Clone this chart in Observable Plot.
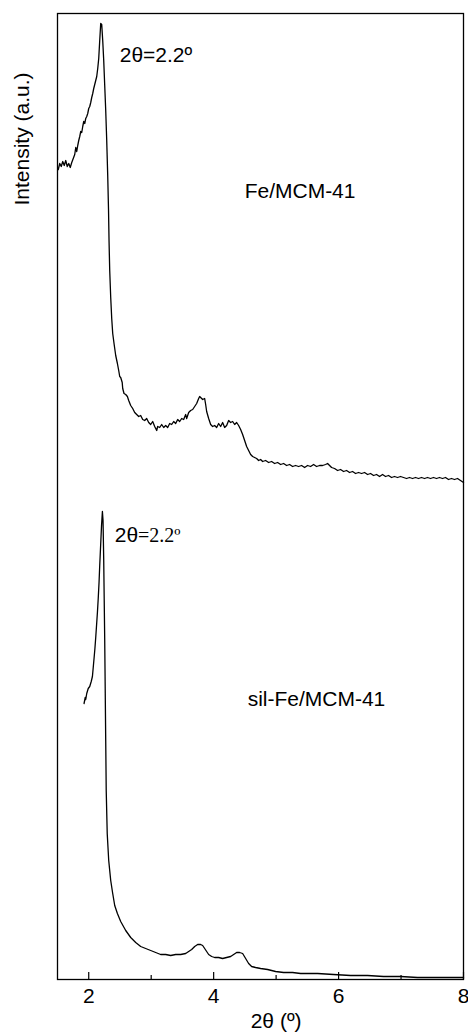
<!DOCTYPE html>
<html><head><meta charset="utf-8">
<script src="https://cdn.jsdelivr.net/npm/d3@7"></script>
<script src="https://cdn.jsdelivr.net/npm/@observablehq/plot@0.6"></script>
<style>body{margin:0;background:#fff}</style>
</head><body><div id="chart"></div>
<script>
// Fe/MCM-41 pattern (2θ in degrees, intensity in a.u.)
const feX = [1.512,1.536,1.56,1.584,1.608,1.632,1.656,1.68,1.704,1.728,1.752,1.776,1.792,1.808,1.824,1.84,1.856,1.872,1.888,1.904,1.92,1.936,1.952,1.968,1.984,2.0,2.016,2.032,2.048,2.064,2.08,2.096,2.112,2.128,2.144,2.16,2.176,2.192,2.208,2.224,2.24,2.256,2.272,2.288,2.304,2.317,2.325,2.336,2.352,2.368,2.384,2.405,2.432,2.459,2.48,2.496,2.512,2.536,2.544,2.565,2.592,2.619,2.64,2.672,2.704,2.736,2.768,2.8,2.832,2.864,2.896,2.928,2.96,2.992,3.024,3.056,3.088,3.104,3.136,3.168,3.2,3.232,3.264,3.296,3.328,3.36,3.392,3.424,3.456,3.488,3.52,3.552,3.568,3.6,3.632,3.664,3.696,3.728,3.76,3.776,3.792,3.824,3.856,3.872,3.888,3.92,3.952,3.984,4.016,4.048,4.08,4.112,4.144,4.176,4.208,4.24,4.272,4.304,4.336,4.368,4.4,4.432,4.464,4.496,4.528,4.56,4.592,4.624,4.656,4.688,4.72,4.752,4.784,4.832,4.88,4.928,4.976,5.024,5.072,5.12,5.168,5.216,5.264,5.312,5.36,5.408,5.456,5.504,5.552,5.6,5.648,5.696,5.744,5.792,5.824,5.856,5.888,5.936,5.984,6.032,6.08,6.128,6.176,6.224,6.272,6.32,6.368,6.416,6.464,6.512,6.56,6.608,6.656,6.704,6.752,6.8,6.848,6.896,6.944,6.992,7.04,7.088,7.136,7.184,7.232,7.28,7.328,7.376,7.424,7.472,7.52,7.568,7.616,7.664,7.712,7.76,7.808,7.856,7.904,7.952,8.0];
const feY = [810,816,813,818,814,819,813,816,812,817,821,825,832,828,834,839,843,848,847,853,858,856,861,863,866,871,873,877,882,886,891,895,899,903,911,921,939,956,955,939,919,894,869,839,804,769,739,709,682,661,646,636,624,616,609,603,602,597,591,586,585,583,579,574,571,567,565,563,564,560,559,561,557,555,558,553,549,553,552,555,552,554,552,556,555,558,556,560,558,561,560,565,561,567,569,570,573,576,581,583,582,580,581,575,568,561,555,553,554,552,556,553,557,552,554,559,557,558,555,557,554,550,545,539,533,529,525,523,522,521,519,520,518,519,517,518,516,517,515,516,514,515,513,514,513,514,512,514,513,515,513,514,514,515,516,514,512,511,509,510,508,509,507,508,506,507,506,507,505,506,504,505,503,505,503,504,502,503,502,503,502,501,502,501,502,501,502,501,502,501,502,501,502,501,502,500,501,500,501,499,497];

// sil-Fe/MCM-41 pattern
const silX = [1.925,1.944,1.952,1.968,1.992,2.016,2.04,2.059,2.072,2.085,2.099,2.112,2.125,2.139,2.152,2.165,2.176,2.192,2.205,2.219,2.229,2.24,2.248,2.256,2.264,2.272,2.28,2.296,2.32,2.352,2.384,2.416,2.459,2.512,2.592,2.672,2.752,2.832,2.912,2.992,3.072,3.152,3.232,3.312,3.392,3.472,3.552,3.6,3.648,3.696,3.744,3.792,3.824,3.856,3.888,3.92,3.968,4.016,4.08,4.144,4.208,4.272,4.32,4.368,4.416,4.464,4.512,4.56,4.608,4.672,4.752,4.864,4.992,5.12,5.264,5.392,5.664,5.92,6.192,6.464,6.72,6.992,7.264,7.52,7.792,8.0];
const silY = [276,282,280,286,291,293,298,303,312,321,331,342,354,367,381,397,414,436,454,468,459,419,379,339,289,239,189,146,119,99,86,74,66,58,49,42,37,33,31,29,27,25,25,24,25,25,26,28,30,33,35,35,34,31,28,25,23,22,22,21,22,23,25,27,27,26,21,16,13,12,11,10,8,7,7,6,6,5,4,4,3,3,2,2,2,2];

// axis ticks and labels
const majorTicks = [2, 4, 6, 8];
const minorTicks = [3, 5, 7];
const xLabel = "2θ (º)";
const yLabel = "Intensity (a.u.)";

// annotations (data coordinates)
const annText = ["2θ=2.2º", "Fe/MCM-41", "sil-Fe/MCM-41"];
const annX = [2.496, 4.496, 4.544];
const annY = [924, 788, 280];
const peakText = ["2θ=2.2º"];
const peakX = [2.416];
const peakY = [444];

const fe = feX.map((x, i) => ({x, y: feY[i]}));
const sil = silX.map((x, i) => ({x, y: silY[i]}));
const ann = annText.map((t, i) => ({t, x: annX[i], y: annY[i]}));
const peak = peakText.map((t, i) => ({t, x: peakX[i], y: peakY[i]}));

const font = "'Liberation Sans', Arial, sans-serif";
const chart = Plot.plot({
  width: 468, height: 1033,
  marginTop: 13, marginBottom: 54, marginLeft: 57, marginRight: 5,
  style: {fontFamily: font, fontSize: "21px", background: "white", color: "black"},
  x: {domain: [1.5, 8]},
  y: {domain: [0, 966], axis: null},
  marks: [
    Plot.axisX(majorTicks, {tickSize: -7, tickPadding: 16, fontSize: 21, label: null, strokeWidth: 1.2}),
    Plot.axisX(minorTicks, {tickSize: -4, tickFormat: () => "", label: null, strokeWidth: 1.2}),
    Plot.frame({stroke: "black", strokeWidth: 1.3}),
    Plot.line(fe, {x: "x", y: "y", stroke: "black", strokeWidth: 1.3}),
    Plot.line(sil, {x: "x", y: "y", stroke: "black", strokeWidth: 1.3}),
    Plot.text(ann, {x: "x", y: "y", text: "t", textAnchor: "start", lineAnchor: "middle", fontSize: 21, fill: "black"}),
    Plot.text(peak, {x: "x", y: "y", text: "t", textAnchor: "start", lineAnchor: "middle", fontSize: 21, fill: "black", className: "mixedlabel"}),
    Plot.text([xLabel], {x: 5, frameAnchor: "bottom", dy: 42, text: d => d, lineAnchor: "middle", fontSize: 21, fill: "black"}),
    Plot.text([yLabel], {y: 774, frameAnchor: "left", dx: -35, rotate: -90, text: d => d, lineAnchor: "middle", fontSize: 21, fill: "black"})
  ]
});
document.getElementById("chart").appendChild(chart);

// render the peak label with a sans "2θ" and a serif "=2.2º"
d3.select(chart).selectAll("g.mixedlabel text").each(function () {
  const el = d3.select(this);
  const s = el.text();
  el.text(null);
  el.append("tspan").text(s.slice(0, 2));
  el.append("tspan").attr("font-family", "'Liberation Serif', 'Times New Roman', serif").attr("font-size", 20).text(s.slice(2));
});
</script>
</body></html>
